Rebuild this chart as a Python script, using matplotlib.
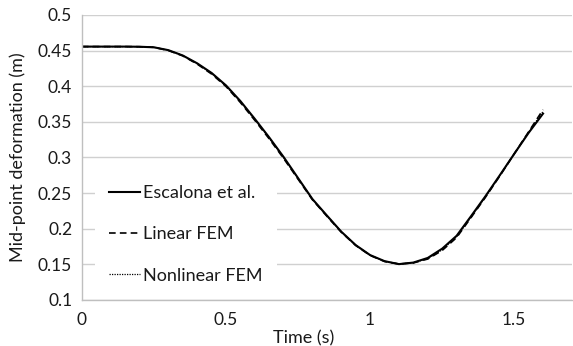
import matplotlib
matplotlib.use("Agg")
import matplotlib.pyplot as plt

# Mid-point deformation of the beam over time
tiempo = [0.0, 0.05, 0.1, 0.15, 0.2, 0.25, 0.3, 0.35, 0.4, 0.45, 0.5, 0.55,
          0.6, 0.65, 0.7, 0.75, 0.8, 0.85, 0.9, 0.95, 1.0, 1.05, 1.1, 1.15,
          1.2, 1.25, 1.3, 1.35, 1.4, 1.45, 1.5, 1.55, 1.6]

escalona = [0.4555, 0.4555, 0.4555, 0.4555, 0.4553, 0.4545, 0.4505, 0.443,
            0.432, 0.4185, 0.401, 0.379, 0.354, 0.328, 0.3005, 0.271, 0.2415,
            0.2185, 0.1958, 0.177, 0.163, 0.1545, 0.1503, 0.1525, 0.159,
            0.172, 0.19, 0.2175, 0.2455, 0.275, 0.305, 0.3345, 0.3615]

lineal = [0.4555, 0.4555, 0.4555, 0.4555, 0.4553, 0.4545, 0.4500, 0.4425,
          0.431, 0.417, 0.3995, 0.377, 0.352, 0.326, 0.2985, 0.2695, 0.2405,
          0.2175, 0.195, 0.1765, 0.1625, 0.154, 0.1505, 0.152, 0.1575,
          0.1695, 0.1875, 0.2155, 0.244, 0.274, 0.305, 0.336, 0.367]

no_lineal = [0.4555, 0.4555, 0.4555, 0.4555, 0.4553, 0.4545, 0.4503, 0.4428,
             0.4315, 0.418, 0.4003, 0.378, 0.353, 0.327, 0.2995, 0.2702, 0.241,
             0.218, 0.1955, 0.1768, 0.1628, 0.1543, 0.1504, 0.1522, 0.158,
             0.1705, 0.1885, 0.2163, 0.2445, 0.2745, 0.305, 0.3355, 0.3645]

xticks = [0, 0.5, 1, 1.5]
xlabels = ["0", "0.5", "1", "1.5"]
yticks = [0.1, 0.15, 0.2, 0.25, 0.3, 0.35, 0.4, 0.45, 0.5]
ylabels = ["0.1", "0.15", "0.2", "0.25", "0.3", "0.35", "0.4", "0.45", "0.5"]

plt.rcParams["font.family"] = ["Lato", "DejaVu Sans"]
plt.rcParams["font.size"] = 13

fig = plt.figure(figsize=(5.73, 3.46), dpi=100)
ax = fig.add_axes([0.143, 0.133, 0.855, 0.824])

ax.plot(tiempo, escalona, color="black", lw=1.5, ls="-", label="Escalona et al.")
ax.plot(tiempo, lineal, color="black", lw=1.2, ls=(0, (4, 2.5)), label="Linear FEM")
ax.plot(tiempo, no_lineal, color="black", lw=0.9, ls=(0, (1, 1)), label="Nonlinear FEM")

ax.set_xlim(0, 1.7)
ax.set_ylim(0.1, 0.5)
ax.set_xticks(xticks)
ax.set_xticklabels(xlabels)
ax.set_yticks(yticks)
ax.set_yticklabels(ylabels)
ax.tick_params(length=0, labelsize=12.5, colors="#1a1a1a")
ax.tick_params(axis="y", pad=7)
ax.tick_params(axis="x", pad=8.5)

ax.grid(axis="y", color="#d0d0d0", lw=1)
ax.set_axisbelow(True)
for s in ["top", "right"]:
    ax.spines[s].set_visible(False)
for s in ["left", "bottom"]:
    ax.spines[s].set_color("#bfbfbf")
    ax.spines[s].set_linewidth(1)

ax.set_xlabel("Time (s)", fontsize=13, labelpad=0, color="#1a1a1a")
ax.xaxis.set_label_coords(0.452, -0.105)
ax.set_ylabel("Mid-point deformation (m)", fontsize=13, color="#1a1a1a")
ax.yaxis.set_label_coords(-0.115, 0.5)

leg = ax.legend(loc="lower left", bbox_to_anchor=(0.0265, 0.007), frameon=True,
                fontsize=13, handlelength=1.72, handletextpad=0.17,
                labelspacing=1.4, borderpad=0.8, borderaxespad=0)
leg.get_frame().set_facecolor("white")
leg.get_frame().set_edgecolor("none")
leg.get_frame().set_alpha(1)
for t in leg.get_texts():
    t.set_color("#1a1a1a")

fig.savefig("out.png", dpi=100)
